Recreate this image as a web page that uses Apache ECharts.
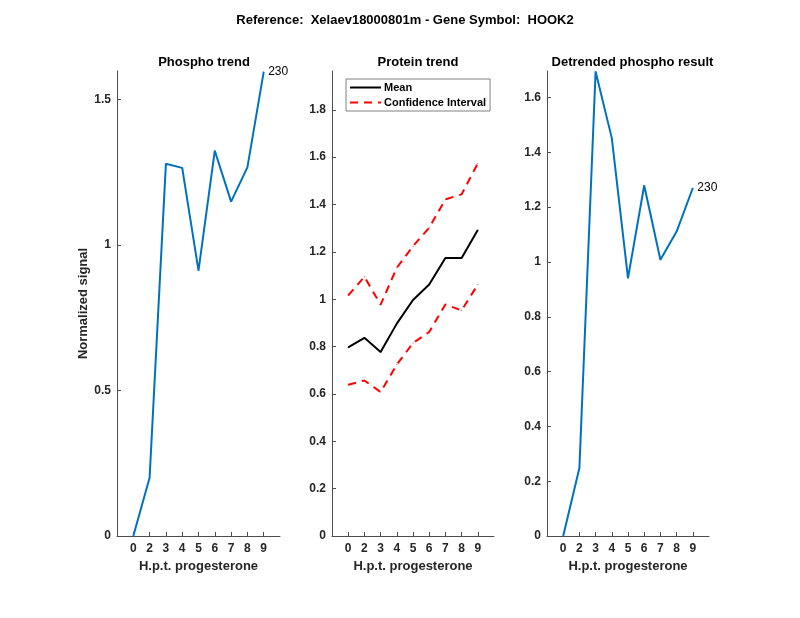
<!DOCTYPE html>
<html>
<head>
<meta charset="utf-8">
<script src="https://cdn.jsdelivr.net/npm/echarts@6/dist/echarts.min.js"></script>
<style>html,body{margin:0;padding:0;background:#fff}#c{width:800px;height:618px}</style>
</head>
<body>
<div id="c"></div>
<script>
const hours = ['0','2','3','4','5','6','7','8','9'];
const phospho = [0, 0.200, 1.279, 1.265, 0.912, 1.324, 1.149, 1.267, 1.595];
const proteinMean = [0.797, 0.837, 0.777, 0.897, 0.997, 1.062, 1.174, 1.174, 1.292];
const ciUpper = [1.016, 1.095, 0.977, 1.133, 1.224, 1.302, 1.422, 1.443, 1.574];
const ciLower = [0.639, 0.657, 0.608, 0.724, 0.815, 0.862, 0.978, 0.953, 1.062];
const detrended = [0, 0.248, 1.695, 1.452, 0.941, 1.279, 1.008, 1.111, 1.270];
const siteLabel = '230';
const yTicks1 = [0, 0.5, 1, 1.5];
const yTicks2 = [0, 0.2, 0.4, 0.6, 0.8, 1, 1.2, 1.4, 1.6, 1.8];
const yTicks3 = [0, 0.2, 0.4, 0.6, 0.8, 1, 1.2, 1.4, 1.6];
const yMax = [1.598, 1.964, 1.697];

const FONT = 'Liberation Sans';
const TXT = '#262626';
const xCats = [''].concat(hours, ['']);
function pad(arr, labelLast) {
  return [null].concat(arr.map((v, i) => {
    if (labelLast && i === arr.length - 1) {
      return {value: v, label: {show: true, formatter: siteLabel, position: 'right', distance: 4,
        fontFamily: FONT, fontSize: 12, color: '#000'}};
    }
    return v;
  }), [null]);
}
const grids = [
  {left: 117, width: 163, top: 71, bottom: 82},
  {left: 332, width: 162, top: 71, bottom: 82},
  {left: 547, width: 162, top: 71, bottom: 82}
];
function xAxis(i) {
  return {
    type: 'category', gridIndex: i, data: xCats, boundaryGap: false,
    axisLine: {lineStyle: {color: '#4d4d4d', width: 1}},
    axisTick: {inside: true, length: 4, lineStyle: {color: '#4d4d4d'},
      interval: (idx) => idx > 0 && idx < xCats.length - 1},
    axisLabel: {interval: 0, color: TXT, fontFamily: FONT, fontSize: 12, fontWeight: 'bold', margin: 7},
    name: 'H.p.t. progesterone', nameLocation: 'middle', nameGap: 22,
    nameTextStyle: {color: TXT, fontFamily: FONT, fontSize: 13, fontWeight: 'bold'},
    splitLine: {show: false}
  };
}
function yAxis(i, ticks, max, name) {
  const a = {
    type: 'value', gridIndex: i, min: 0, max: max,
    axisLine: {show: true, lineStyle: {color: '#4d4d4d', width: 1}},
    axisTick: {show: true, inside: true, length: 4, lineStyle: {color: '#4d4d4d'}, customValues: ticks},
    axisLabel: {color: TXT, fontFamily: FONT, fontSize: 12, fontWeight: 'bold', margin: 6, customValues: ticks},
    splitLine: {show: false}
  };
  if (name) {
    a.name = name; a.nameLocation = 'middle'; a.nameGap = 26;
    a.nameTextStyle = {color: TXT, fontFamily: FONT, fontSize: 13, fontWeight: 'bold'};
  }
  return a;
}
const titleStyle = {color: '#000', fontFamily: FONT, fontSize: 13, fontWeight: 'bold'};
const lineSeries = (name, xi, data, color, width, type) => ({
  type: 'line', name: name, xAxisIndex: xi, yAxisIndex: xi, data: data,
  symbol: 'circle', symbolSize: 1, showSymbol: true,
  lineStyle: {color: color, width: width, type: type || 'solid'}, itemStyle: {color: color}
});
const option = {
  animation: false,
  backgroundColor: '#fff',
  title: [
    {text: 'Reference:  Xelaev18000801m - Gene Symbol:  HOOK2', left: 400, top: 9, textAlign: 'center', textStyle: titleStyle},
    {text: 'Phospho trend', left: 199, top: 51, textAlign: 'center', textStyle: titleStyle},
    {text: 'Protein trend', left: 413, top: 51, textAlign: 'center', textStyle: titleStyle},
    {text: 'Detrended phospho result', left: 627.5, top: 51, textAlign: 'center', textStyle: titleStyle}
  ],
  legend: {
    left: 346, top: 79, orient: 'vertical', itemGap: 4, itemWidth: 31, itemHeight: 10,
    padding: [3, 4, 3, 3],
    borderColor: '#808080', borderWidth: 1, backgroundColor: '#fff',
    itemStyle: {opacity: 0},
    textStyle: {color: '#000', fontFamily: FONT, fontSize: 11, fontWeight: 'bold', padding: [0, 0, 0, -2]},
    data: ['Mean', 'Confidence Interval']
  },
  grid: grids,
  xAxis: [xAxis(0), xAxis(1), xAxis(2)],
  yAxis: [yAxis(0, yTicks1, yMax[0], 'Normalized signal'), yAxis(1, yTicks2, yMax[1]), yAxis(2, yTicks3, yMax[2])],
  series: [
    lineSeries('Phospho', 0, pad(phospho, true), '#0072BD', 2),
    lineSeries('Mean', 1, pad(proteinMean), '#000000', 2),
    lineSeries('Confidence Interval', 1, pad(ciUpper), '#ff0000', 2, [8, 6]),
    lineSeries('Confidence Interval', 1, pad(ciLower), '#ff0000', 2, [8, 6]),
    lineSeries('Detrended', 2, pad(detrended, true), '#0072BD', 2)
  ]
};
echarts.init(document.getElementById('c'), null, {renderer: 'canvas'}).setOption(option);
</script>
</body>
</html>
